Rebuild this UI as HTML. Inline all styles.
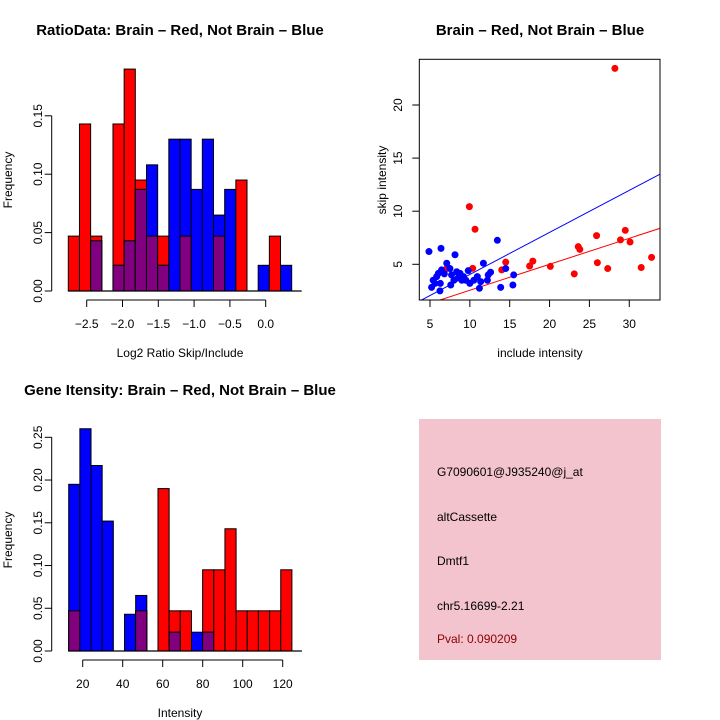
<!DOCTYPE html>
<html><head><meta charset="utf-8"><style>
html,body{margin:0;padding:0;background:#fff;width:720px;height:720px;overflow:hidden}
svg text{font-family:"Liberation Sans",sans-serif;fill:#000}
</style></head><body>
<svg id="s" width="720" height="720" xmlns="http://www.w3.org/2000/svg">
<rect x="419" y="419" width="242" height="241" fill="#f3c3ce"/>
<text x="437" y="476" font-size="12">G7090601@J935240@j_at</text>
<text x="437" y="521" font-size="12">altCassette</text>
<text x="437" y="565" font-size="12">Dmtf1</text>
<text x="437" y="610" font-size="12">chr5.16699-2.21</text>
<text x="437" y="643" font-size="12" style="fill:#8b0000">Pval: 0.090209</text>
</svg>
<script>
// ---- Ratio histogram data ----
const ratioStart = -2.757, ratioWidth = 0.156;
const ratioRed  = [0.047,0.143,0.047,0,0.143,0.190,0.095,0.047,0.047,0,0.047,0,0,0.047,0,0.095,0,0,0.047,0];
const ratioBlue = [0,0,0.043,0,0.022,0.043,0.087,0.108,0.022,0.130,0.130,0.087,0.130,0.065,0.087,0,0,0.022,0,0.022];
const ratioXTicks = [-2.5,-2.0,-1.5,-1.0,-0.5,0.0];
const ratioXLabels = ["\u22122.5","\u22122.0","\u22121.5","\u22121.0","\u22120.5","0.0"];
const ratioYTicks = [0,0.05,0.10,0.15];
const ratioYLabels = ["0.00","0.05","0.10","0.15"];
// ---- Intensity histogram data ----
const intStart = 13.0, intWidth = 5.58;
const intRed  = [0.047,0,0,0,0,0,0.047,0,0.190,0.047,0.047,0,0.095,0.095,0.143,0.047,0.047,0.047,0.047,0.095];
const intBlue = [0.195,0.26,0.217,0.152,0,0.043,0.065,0,0,0.022,0,0.022,0.022,0,0,0,0,0,0,0];
const intXTicks = [20,40,60,80,100,120];
const intYTicks = [0,0.05,0.10,0.15,0.20,0.25];
const intYLabels = ["0.00","0.05","0.10","0.15","0.20","0.25"];
// ---- Scatter data ----
const redX = [28.2,9.94,10.65,10.36,7.1,14.0,14.5,17.5,17.9,20.1,23.1,23.6,23.8,25.9,26.0,27.3,28.9,29.5,30.1,31.5,32.8];
const redY = [23.45,10.43,8.3,4.62,4.6,4.47,5.2,4.84,5.3,4.8,4.1,6.66,6.4,7.7,5.15,4.6,7.3,8.2,7.1,4.7,5.65];
const blueX = [4.87,6.38,8.14,13.45,11.7,5.2,5.63,5.84,6.05,6.25,6.3,6.45,7.1,7.5,7.6,7.7,8.0,8.35,8.56,8.77,9.2,9.5,9.8,10.0,10.5,10.94,11.2,11.36,12.2,12.3,12.6,13.87,14.5,15.4,15.5,6.8,5.4,9.0];
const blueY = [6.2,6.5,5.9,7.26,5.1,2.83,3.2,3.84,4.15,2.5,3.2,4.47,5.1,4.6,3.05,4.0,3.5,4.3,3.75,4.15,3.84,3.5,4.4,3.2,3.5,3.84,2.74,3.37,3.5,4.0,4.25,2.83,4.6,3.05,4.0,4.1,3.5,3.5];
const blueFit = [0.08,0.396], redFit = [0.11,0.2445];
const scXTicks = [5,10,15,20,25,30], scYTicks = [5,10,15,20];

const NS="http://www.w3.org/2000/svg", S=document.getElementById('s');
function el(t,a,txt){const e=document.createElementNS(NS,t);for(const k in a)e.setAttribute(k,a[k]);if(txt!==undefined)e.textContent=txt;S.appendChild(e);return e;}

function hist(o){
  const sx=v=>o.x0+(v-o.v0)*o.kx, sy=v=>o.y0-v*o.ky;
  for(let i=0;i<o.red.length;i++){
    const a=sx(o.start+i*o.w), b=sx(o.start+(i+1)*o.w);
    const r=o.red[i], bl=o.blue[i];
    if(r>0){const e=el('rect',{x:a,y:sy(r),width:b-a,height:sy(0)-sy(r),fill:'#ff0000',stroke:'#000','stroke-width':1});
      
      }
    if(bl>0){const e=el('rect',{x:a,y:sy(bl),width:b-a,height:sy(0)-sy(bl),fill:'#0000ff',stroke:'#000','stroke-width':1});
      
      }
    const m=Math.min(r,bl);
    if(m>0){const e=el('rect',{x:a,y:sy(m),width:b-a,height:sy(0)-sy(m),fill:'#800080',stroke:'#000','stroke-width':1});
      
      }
  }
  const bl=el('line',{x1:sx(o.start),x2:sx(o.start+o.red.length*o.w)+10,y1:o.y0,y2:o.y0,stroke:'#000','stroke-width':1.3});
  
  
  const ay=o.y0+9;
  const xa=el('line',{x1:sx(o.xt[0]),x2:sx(o.xt[o.xt.length-1]),y1:ay,y2:ay,stroke:'#000'});
  
  
  o.xt.forEach((t,i)=>{el('line',{x1:sx(t),x2:sx(t),y1:ay,y2:ay+7,stroke:'#000'});
    const tx=el('text',{x:sx(t),y:ay+28,'font-size':12,'text-anchor':'middle'},o.xl[i]);
    
    });
  const axx=51.7;
  const ya=el('line',{x1:axx,x2:axx,y1:sy(o.yt[0]),y2:sy(o.yt[o.yt.length-1]),stroke:'#000'});
  
  
  o.yt.forEach((t,i)=>{el('line',{x1:axx-7,x2:axx,y1:sy(t),y2:sy(t),stroke:'#000'});
    const tx=el('text',{x:38,y:sy(t),'font-size':12,'text-anchor':'middle','dominant-baseline':'central',transform:`rotate(-90 38 ${sy(t)})`},o.yl[i]);
    
    });
}
hist({id:'ratio',x0:86.7,v0:-2.5,kx:71.6,y0:291,ky:1168,start:ratioStart,w:ratioWidth,red:ratioRed,blue:ratioBlue,xt:ratioXTicks,xl:ratioXLabels,yt:ratioYTicks,yl:ratioYLabels});
hist({id:'intensity',x0:82.7,v0:20,kx:2.0,y0:651,ky:854.8,start:intStart,w:intWidth,red:intRed,blue:intBlue,xt:intXTicks,xl:intXTicks.map(String),yt:intYTicks,yl:intYLabels});

const L=419.3,R=660,T=59.3,B=300;
const px=v=>430+(v-5)*7.97, py=v=>264.3-(v-5)*10.62;
el('defs',{}).innerHTML='<clipPath id="cp"><rect x="419.3" y="59.3" width="240.7" height="240.7"/></clipPath>';
const g=document.createElementNS(NS,'g');g.setAttribute('clip-path','url(#cp)');S.appendChild(g);
function gl(fit,c,n){const x1=3,x2=40;const e=document.createElementNS(NS,'line');
  e.setAttribute('x1',px(x1));e.setAttribute('x2',px(x2));e.setAttribute('y1',py(fit[0]+fit[1]*x1));e.setAttribute('y2',py(fit[0]+fit[1]*x2));
  e.setAttribute('stroke',c);g.appendChild(e);
  
  }
redX.forEach((x,i)=>{const c=el('circle',{cx:px(x),cy:py(redY[i]),r:3.5,fill:'#ff0000'});
  
  });
blueX.forEach((x,i)=>{const c=el('circle',{cx:px(x),cy:py(blueY[i]),r:3.5,fill:'#0000ff'});
  
  });
gl(blueFit,'#0000ff','fit-line-blue');gl(redFit,'#ff0000','fit-line-red');
const box=el('rect',{x:L,y:T,width:R-L,height:B-T,fill:'none',stroke:'#000'});


scXTicks.forEach(t=>{el('line',{x1:px(t),x2:px(t),y1:B,y2:B+7,stroke:'#000'});
  const tx=el('text',{x:px(t),y:B+28,'font-size':12,'text-anchor':'middle'},String(t));
  
  });
scYTicks.forEach(t=>{el('line',{x1:L-7,x2:L,y1:py(t),y2:py(t),stroke:'#000'});
  const tx=el('text',{x:398,y:py(t),'font-size':12,'text-anchor':'middle','dominant-baseline':'central',transform:`rotate(-90 398 ${py(t)})`},String(t));
  
  });
</script>
<svg width="720" height="720" style="position:absolute;left:0;top:0" xmlns="http://www.w3.org/2000/svg">
<text x="180" y="35" font-size="15" font-weight="bold" text-anchor="middle">RatioData: Brain – Red, Not Brain – Blue</text>
<text x="180" y="357" font-size="12" text-anchor="middle">Log2 Ratio Skip/Include</text>
<text x="12" y="180" font-size="12" text-anchor="middle" transform="rotate(-90 12 180)">Frequency</text>
<text x="540" y="35" font-size="15" font-weight="bold" text-anchor="middle">Brain – Red, Not Brain – Blue</text>
<text x="540" y="357" font-size="12" text-anchor="middle">include intensity</text>
<text x="386" y="180" font-size="12" text-anchor="middle" transform="rotate(-90 386 180)">skip intensity</text>
<text x="180" y="395" font-size="15" font-weight="bold" text-anchor="middle">Gene Itensity: Brain – Red, Not Brain – Blue</text>
<text x="180" y="717" font-size="12" text-anchor="middle">Intensity</text>
<text x="12" y="540" font-size="12" text-anchor="middle" transform="rotate(-90 12 540)">Frequency</text>
</svg>
</body></html>
